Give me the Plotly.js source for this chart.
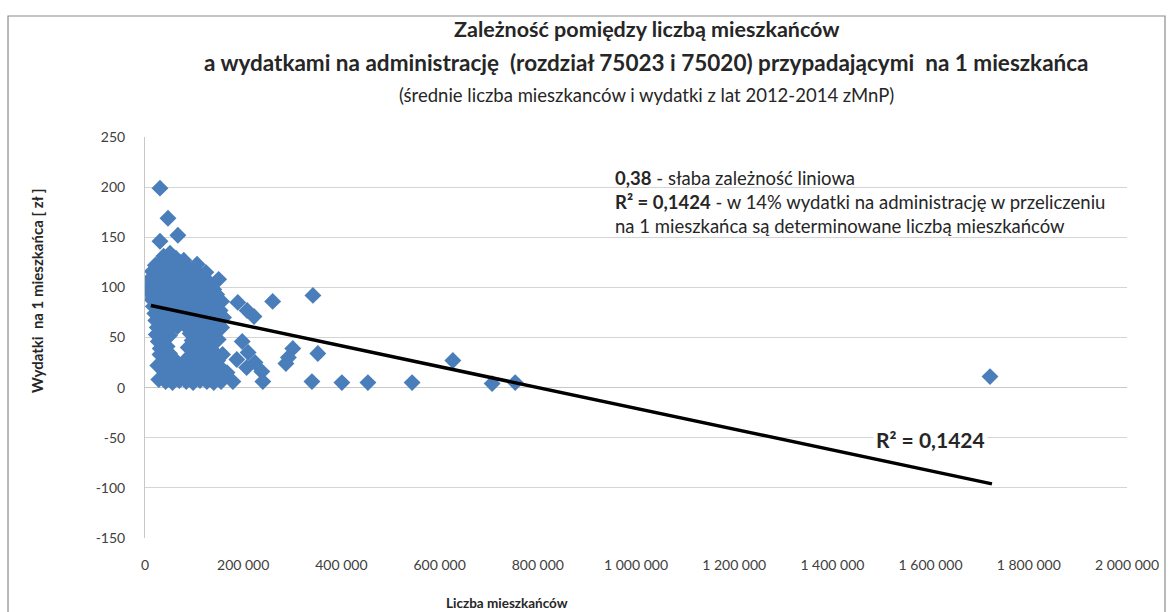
<!DOCTYPE html>
<html>
<head>
<meta charset="utf-8">
<script src="https://cdn.plot.ly/plotly-3.0.1.min.js"></script>
<style>
html,body{margin:0;padding:0;background:#fff;}
#chart{width:1176px;height:612px;}
</style>
</head>
<body>
<div id="chart"></div>
<script>
// Liczba mieszkańców (x) and wydatki na 1 mieszkańca (y)
const mieszkancy = [
  30500, 46800, 30500, 67000,
  38000, 51000, 63000, 79000,
  21000, 33000, 45000, 57000, 71000, 89000, 106000,
  15000, 27000, 40000, 53000, 66000, 81000, 95000, 113000, 124000,
  12000, 24000, 36000, 48000, 61000, 74000, 87000, 100000, 118000, 133000, 150000,
  10000, 20000, 32000, 45000, 57000, 70000, 84000, 97000, 110000, 126000, 140000,
  9000, 18000, 30000, 42000, 54000, 66000, 79000, 92000, 105000, 119000, 132000, 146000,
  14000, 26000, 38000, 50000, 62000, 75000, 88000, 101000, 114000, 128000, 142000, 156000,
  17000, 29000, 43000, 56000, 69000, 82000, 96000, 110000, 124000, 138000, 153000,
  20000, 33000, 47000, 60000, 73000, 87000, 100000, 115000, 130000, 145000, 160000,
  22000, 35000, 49000, 63000, 77000, 91000, 106000, 121000, 137000, 152000,
  25000, 38000, 52000, 66000, 80000, 95000, 110000, 126000, 141000, 156000,
  23000, 36000, 50000, 92000, 106000, 120000, 134000,
  27000, 40000, 96000, 112000, 126000, 149000,
  31000, 45000, 88000, 102000, 118000, 136000,
  30500, 50000, 92000, 108000, 124000, 138000, 158000,
  26000, 36000, 48000, 62000, 76000, 100000, 116000, 132000, 148000,
  34000, 46000, 58000, 72000, 86000, 98000, 112000, 126000, 140000, 156000,
  38000, 50000, 64000, 78000, 92000, 106000, 120000, 134000, 148000,
  28000, 42000, 56000, 70000, 84000, 98000, 112000, 126000, 140000, 155000,
  189000, 208000, 222000, 260000, 342000,
  198000, 210000, 224000, 238000, 187000, 207000, 167000, 163000, 179000, 240000,
  301000, 292000, 287000, 352000, 340000, 401000, 454000, 544000, 627000, 707000, 754000, 1721000
];
const wydatki = [
  199, 169, 146, 152,
  131, 134, 129, 127,
  122, 126, 124, 121, 125, 119, 123,
  116, 118, 115, 119, 117, 114, 118, 112, 115,
  109, 111, 108, 112, 110, 107, 111, 108, 106, 104, 108,
  102, 104, 101, 103, 105, 100, 103, 99, 102, 100, 98,
  95, 97, 94, 96, 98, 93, 96, 95, 92, 94, 90, 93,
  88, 90, 87, 89, 91, 86, 89, 87, 85, 88, 84, 86,
  81, 83, 80, 82, 84, 79, 82, 80, 78, 81, 77,
  74, 76, 73, 75, 77, 72, 75, 73, 71, 74, 70,
  67, 69, 66, 68, 70, 65, 68, 66, 64, 67,
  60, 62, 59, 61, 63, 58, 61, 59, 57, 60,
  53, 55, 52, 54, 56, 53, 51,
  46, 48, 47, 45, 49, 48,
  39, 41, 40, 38, 42, 38,
  33, 34, 32, 35, 31, 34, 33,
  22, 26, 25, 27, 24, 26, 28, 25, 27,
  19, 18, 20, 17, 19, 21, 18, 20, 17, 19,
  12, 13, 11, 12, 14, 11, 13, 12, 10,
  8, 6, 5, 7, 6, 5, 7, 6, 5, 6,
  85, 77, 71, 86, 92,
  46, 35, 25, 16, 28, 20, 15, 11, 6, 6,
  39, 30, 24, 34, 6, 5, 5, 5, 27, 4, 5, 11
];
// linear trend line
const trendX = [12000, 1725000];
const trendY = [82, -96];

const xTickVals = [0, 200000, 400000, 600000, 800000, 1000000, 1200000, 1400000, 1600000, 1800000, 2000000];
const xTickText = ['0', '200 000', '400 000', '600 000', '800 000', '1 000 000', '1 200 000', '1 400 000', '1 600 000', '1 800 000', '2 000 000'];
const yTickVals = [-150, -100, -50, 0, 50, 100, 150, 200, 250];
const yTickText = ['-150', '-100', '-50', '0', '50', '100', '150', '200', '250'];

const FONT = 'Lato, "Open Sans", "Liberation Sans", sans-serif';
const TXT = '#262626';

const traces = [
  {
    type: 'scatter', mode: 'markers', x: mieszkancy, y: wydatki,
    marker: {symbol: 'diamond', size: 13, color: '#4a7ebb', line: {width: 0}},
    hoverinfo: 'x+y', showlegend: false
  },
  {
    type: 'scatter', mode: 'lines', x: trendX, y: trendY,
    line: {color: '#000000', width: 3.5}, hoverinfo: 'skip', showlegend: false
  }
];

const layout = {
  width: 1176, height: 612,
  margin: {l: 145, r: 49, t: 137, b: 74},
  paper_bgcolor: '#ffffff', plot_bgcolor: '#ffffff',
  font: {family: FONT, color: TXT},
  showlegend: false,
  xaxis: {
    range: [0, 2000000], tickvals: xTickVals, ticktext: xTickText,
    showgrid: false, zeroline: false, showline: false,
    ticks: 'outside', ticklen: 14, tickcolor: 'rgba(0,0,0,0)',
    tickfont: {size: 14, color: '#404040', family: FONT},
    fixedrange: true
  },
  yaxis: {
    range: [-150, 250], tickvals: yTickVals, ticktext: yTickText,
    showgrid: true, gridcolor: '#d4d4d4', gridwidth: 1,
    zeroline: true, zerolinecolor: '#c8c8c8', zerolinewidth: 1,
    showline: true, linecolor: '#c8c8c8', linewidth: 1,
    ticks: 'outside', ticklen: 16, tickcolor: 'rgba(0,0,0,0)',
    tickfont: {size: 14, color: '#404040', family: FONT},
    fixedrange: true
  },
  shapes: [
    {type: 'rect', xref: 'paper', yref: 'paper', x0: -0.1395, x1: 1.0387, y0: -0.21, y1: 1.3017,
     line: {color: '#8c8c8c', width: 1.2}, fillcolor: 'rgba(0,0,0,0)', layer: 'below'}
  ],
  annotations: [
    {xref: 'paper', yref: 'paper', x: 0.5112, y: 1.2693, xanchor: 'center', yanchor: 'middle',
     text: '<b>Zależność pomiędzy liczbą mieszkańców</b>', showarrow: false,
     font: {size: 21.5, color: TXT, family: FONT}},
    {xref: 'paper', yref: 'paper', x: 0.5112, y: 1.187, xanchor: 'center', yanchor: 'middle',
     text: '<b>a wydatkami na administrację  (rozdział 75023 i 75020) przypadającymi  na 1 mieszkańca</b>', showarrow: false,
     font: {size: 22.5, color: TXT, family: FONT}},
    {xref: 'paper', yref: 'paper', x: 0.5112, y: 1.1047, xanchor: 'center', yanchor: 'middle',
     text: '(średnie liczba mieszkanców i wydatki z lat 2012-2014 zMnP)', showarrow: false,
     font: {size: 18.5, color: TXT, family: FONT}},
    {xref: 'x', yref: 'y', x: 953000, y: 185, xanchor: 'left', yanchor: 'middle', align: 'left',
     text: '<b>0,38</b> - słaba zależność liniowa<br><b>R² = 0,1424</b> - w 14% wydatki na administrację w przeliczeniu<br>na 1 mieszkańca są determinowane liczbą mieszkańców',
     showarrow: false, font: {size: 18.5, color: TXT, family: FONT}},
    {xref: 'x', yref: 'y', x: 1599000, y: -52, xanchor: 'center', yanchor: 'middle',
     text: '<b>R² = 0,1424</b>', showarrow: false, bgcolor: '#ffffff', borderpad: 2,
     font: {size: 21, color: TXT, family: FONT}},
    {xref: 'paper', yref: 'paper', x: (507 - 145) / 982, y: (538 - 603) / 401, xanchor: 'center', yanchor: 'middle',
     text: '<b>Liczba mieszkańców</b>', showarrow: false,
     font: {size: 13.5, color: TXT, family: FONT}},
    {xref: 'paper', yref: 'paper', x: (37 - 145) / 982, y: (538 - 291) / 401, xanchor: 'center', yanchor: 'middle',
     text: '<b>Wydatki  na 1 mieszkańca [ zł ]</b>', showarrow: false, textangle: -90,
     font: {size: 15, color: TXT, family: FONT}}
  ]
};

Plotly.newPlot('chart', traces, layout, {displayModeBar: false, staticPlot: true});
</script>
</body>
</html>
